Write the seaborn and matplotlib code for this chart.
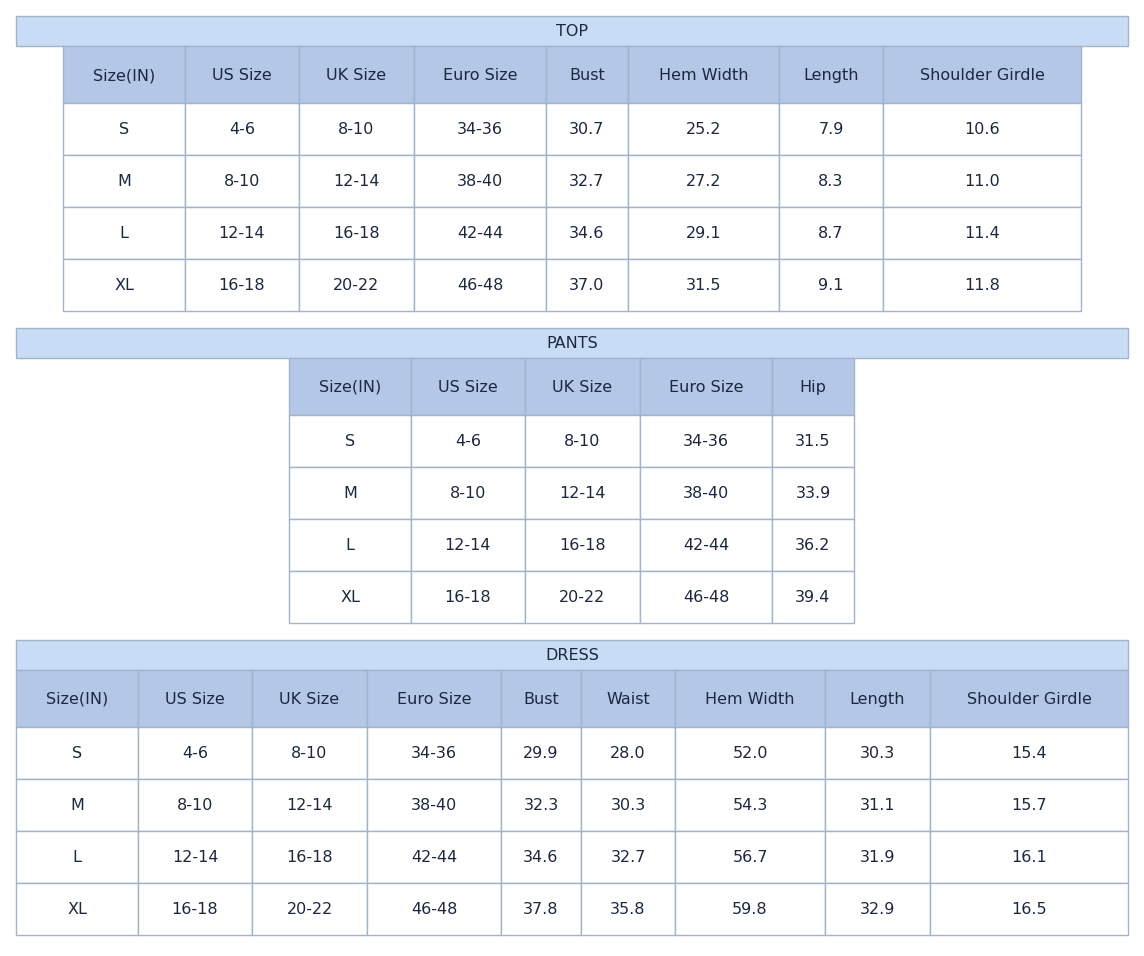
import matplotlib
matplotlib.use("Agg")
import matplotlib.pyplot as plt
from matplotlib.patches import Rectangle
import seaborn as sns

sizes = ["S", "M", "L", "XL"]
us_size = ["4-6", "8-10", "12-14", "16-18"]
uk_size = ["8-10", "12-14", "16-18", "20-22"]
euro_size = ["34-36", "38-40", "42-44", "46-48"]

top_cols = ["Size(IN)", "US Size", "UK Size", "Euro Size", "Bust", "Hem Width", "Length", "Shoulder Girdle"]
top_bust = ["30.7", "32.7", "34.6", "37.0"]
top_hem = ["25.2", "27.2", "29.1", "31.5"]
top_length = ["7.9", "8.3", "8.7", "9.1"]
top_shoulder = ["10.6", "11.0", "11.4", "11.8"]

pants_cols = ["Size(IN)", "US Size", "UK Size", "Euro Size", "Hip"]
pants_hip = ["31.5", "33.9", "36.2", "39.4"]

dress_cols = ["Size(IN)", "US Size", "UK Size", "Euro Size", "Bust", "Waist", "Hem Width", "Length", "Shoulder Girdle"]
dress_bust = ["29.9", "32.3", "34.6", "37.8"]
dress_waist = ["28.0", "30.3", "32.7", "35.8"]
dress_hem = ["52.0", "54.3", "56.7", "59.8"]
dress_length = ["30.3", "31.1", "31.9", "32.9"]
dress_shoulder = ["15.4", "15.7", "16.1", "16.5"]

TITLE_BG = "#c9dcf6"
HEAD_BG = "#b4c7e7"
LINE = "#a3b3ca"
TEXT = "#1b2840"

sns.set_theme(style="white")
plt.rcParams["font.family"] = ["DejaVu Sans"]

fig = plt.figure(figsize=(11.44, 9.56), dpi=100)
ax = fig.add_axes([0, 0, 1, 1])
ax.set_xlim(0, 1144)
ax.set_ylim(956, 0)
ax.axis("off")


def draw_section(title, title_y, col_x, header, columns):
    ax.add_patch(Rectangle((16, title_y), 1112, 30, facecolor=TITLE_BG, edgecolor=LINE, lw=1))
    ax.text(572, title_y + 15, title, ha="center", va="center", fontsize=11.5, color=TEXT)
    y0 = title_y + 30
    # header row
    for i, name in enumerate(header):
        x0, x1 = col_x[i], col_x[i + 1]
        ax.add_patch(Rectangle((x0, y0), x1 - x0, 57, facecolor=HEAD_BG, edgecolor=LINE, lw=1))
        ax.text((x0 + x1) / 2, y0 + 34, name, ha="center", va="baseline", fontsize=11.5, color=TEXT)
    # body rows
    for r in range(len(sizes)):
        ry = y0 + 57 + r * 52
        for i, col in enumerate(columns):
            x0, x1 = col_x[i], col_x[i + 1]
            ax.add_patch(Rectangle((x0, ry), x1 - x0, 52, facecolor="white", edgecolor=LINE, lw=1))
            ax.text((x0 + x1) / 2, ry + 26, col[r], ha="center", va="center", fontsize=11.5, color=TEXT)


draw_section("TOP", 16, [63, 185, 299, 414, 546, 628, 779, 883, 1081], top_cols,
             [sizes, us_size, uk_size, euro_size, top_bust, top_hem, top_length, top_shoulder])
draw_section("PANTS", 328, [289, 411, 525, 640, 772, 854], pants_cols,
             [sizes, us_size, uk_size, euro_size, pants_hip])
draw_section("DRESS", 640, [16, 138, 252, 367, 501, 581, 675, 825, 930, 1128], dress_cols,
             [sizes, us_size, uk_size, euro_size, dress_bust, dress_waist, dress_hem, dress_length, dress_shoulder])

fig.savefig("out.png", dpi=100, facecolor="white")
